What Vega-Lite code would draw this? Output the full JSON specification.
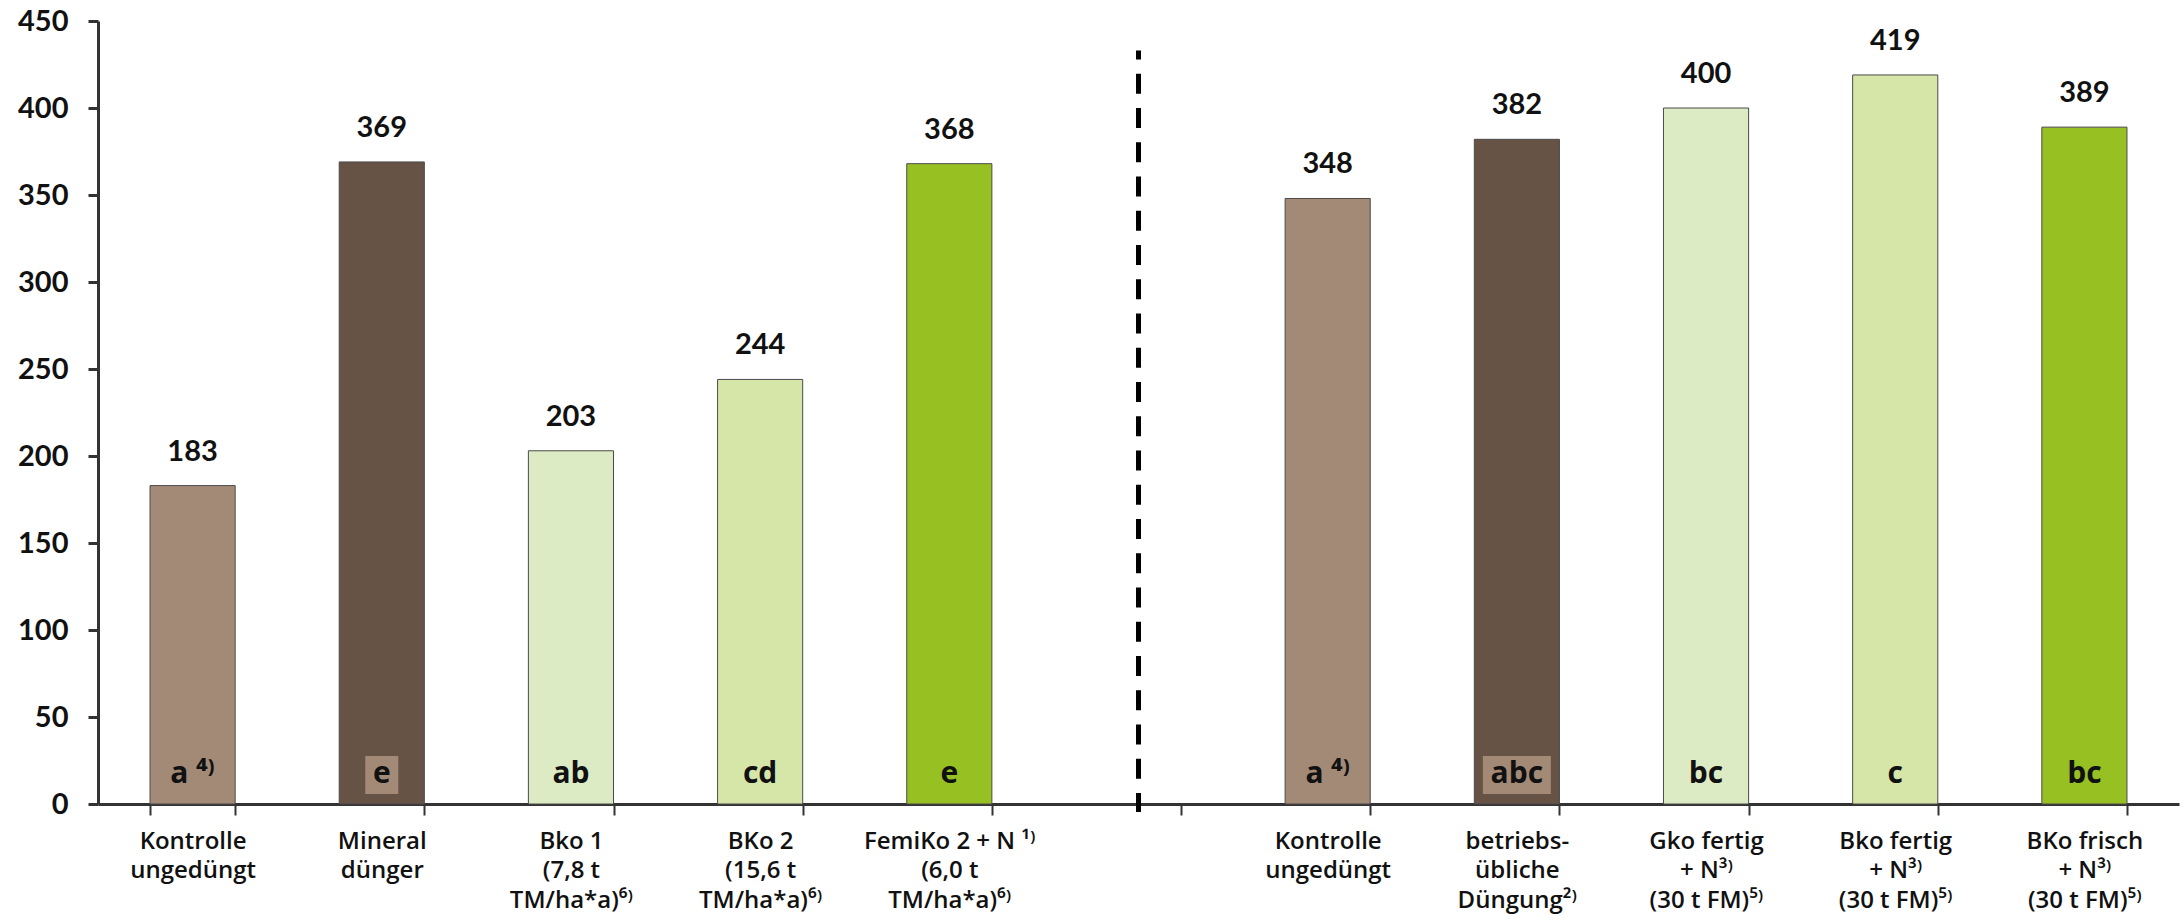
{
  "$schema": "https://vega.github.io/schema/vega-lite/v6.json",
  "autosize": {"type": "none"},
  "width": 2081,
  "height": 783,
  "padding": {"left": 98, "top": 21, "right": 5, "bottom": 119},
  "background": "white",
  "config": {"view": {"stroke": null}, "font": "Lato"},
  "data": {"values": [
    {"treatment": "01|Kontrolle|ungedüngt", "value": 183, "letter": "a ⁴⁾", "type": "Kontrolle"},
    {"treatment": "02|Mineral|dünger", "value": 369, "letter": "e", "type": "Mineral"},
    {"treatment": "03|Bko 1|(7,8 t|TM/ha*a)⁶⁾", "value": 203, "letter": "ab", "type": "Kompost A"},
    {"treatment": "04|BKo 2|(15,6 t|TM/ha*a)⁶⁾", "value": 244, "letter": "cd", "type": "Kompost B"},
    {"treatment": "05|FemiKo 2 + N ¹⁾|(6,0 t|TM/ha*a)⁶⁾", "value": 368, "letter": "e", "type": "Kompost N"},
    {"treatment": "07|Kontrolle|ungedüngt", "value": 348, "letter": "a ⁴⁾", "type": "Kontrolle"},
    {"treatment": "08|betriebs-|übliche|Düngung²⁾", "value": 382, "letter": "abc", "type": "Mineral"},
    {"treatment": "09|Gko fertig|+ N³⁾|(30 t FM)⁵⁾", "value": 400, "letter": "bc", "type": "Kompost A"},
    {"treatment": "10|Bko fertig|+ N³⁾|(30 t FM)⁵⁾", "value": 419, "letter": "c", "type": "Kompost B"},
    {"treatment": "11|BKo frisch|+ N³⁾|(30 t FM)⁵⁾", "value": 389, "letter": "bc", "type": "Kompost N"}
  ]},
  "encoding": {
    "x": {
      "field": "treatment",
      "type": "nominal",
      "sort": null,
      "scale": {
        "domain": [
          "01|Kontrolle|ungedüngt",
          "02|Mineral|dünger",
          "03|Bko 1|(7,8 t|TM/ha*a)⁶⁾",
          "04|BKo 2|(15,6 t|TM/ha*a)⁶⁾",
          "05|FemiKo 2 + N ¹⁾|(6,0 t|TM/ha*a)⁶⁾",
          "06|",
          "07|Kontrolle|ungedüngt",
          "08|betriebs-|übliche|Düngung²⁾",
          "09|Gko fertig|+ N³⁾|(30 t FM)⁵⁾",
          "10|Bko fertig|+ N³⁾|(30 t FM)⁵⁾",
          "11|BKo frisch|+ N³⁾|(30 t FM)⁵⁾"
        ],
        "paddingInner": 0.55,
        "paddingOuter": 0.275
      },
      "axis": {
        "title": null,
        "labelAngle": 0,
        "labelExpr": "slice(split(datum.value, '|'), 1)",
        "labelFont": "Open Sans",
        "labelFontWeight": 600,
        "labelFontSize": 24,
        "labelColor": "#111111",
        "labelLineHeight": 29.5,
        "labelPadding": 14,
        "labelBaseline": "top",
        "tickBand": "extent",
        "tickSize": 11,
        "tickWidth": 2,
        "tickColor": "#333333",
        "domainColor": "#333333",
        "domainWidth": 3,
        "grid": false
      }
    }
  },
  "layer": [
    {
      "mark": {"type": "bar", "stroke": "#4a4a4a", "strokeWidth": 1},
      "encoding": {
        "y": {
          "field": "value",
          "type": "quantitative",
          "scale": {"domain": [0, 450], "nice": false},
          "axis": {
            "title": null,
            "values": [0, 50, 100, 150, 200, 250, 300, 350, 400, 450],
            "labelFontSize": 29,
            "labelFontWeight": "bold",
            "labelColor": "#111111",
            "labelPadding": 20,
            "tickSize": 10,
            "tickWidth": 3,
            "tickColor": "#333333",
            "domainColor": "#333333",
            "domainWidth": 3,
            "grid": false
          }
        },
        "color": {
          "field": "type",
          "type": "nominal",
          "scale": {
            "domain": ["Kontrolle", "Mineral", "Kompost A", "Kompost B", "Kompost N"],
            "range": ["#A38A77", "#665345", "#DDEBC4", "#D6E6A8", "#97C023"]
          },
          "legend": null
        }
      }
    },
    {
      "transform": [{"filter": "datum.letter == 'e' && datum.type == 'Mineral'"}],
      "mark": {"type": "bar", "width": 33, "color": "#A38A77"},
      "encoding": {"y": {"datum": 5.7}, "y2": {"datum": 27.6}}
    },
    {
      "transform": [{"filter": "datum.letter == 'abc'"}],
      "mark": {"type": "bar", "width": 68, "color": "#A38A77"},
      "encoding": {"y": {"datum": 5.7}, "y2": {"datum": 27.6}}
    },
    {
      "mark": {"type": "text", "baseline": "bottom", "dy": -19, "fontSize": 29, "fontWeight": "bold", "color": "#111111"},
      "encoding": {
        "y": {"field": "value", "type": "quantitative"},
        "text": {"field": "value", "type": "quantitative"}
      }
    },
    {
      "mark": {"type": "text", "baseline": "middle", "font": "Open Sans", "fontSize": 30, "fontWeight": "bold", "color": "#111111"},
      "encoding": {
        "y": {"datum": 17.5},
        "text": {"field": "letter", "type": "nominal"}
      }
    },
    {
      "data": {"values": [{"treatment": "06|"}]},
      "mark": {"type": "rule", "strokeDash": [20, 14.25], "strokeDashOffset": 11, "strokeWidth": 5, "color": "#000000"},
      "encoding": {"y": {"datum": 433}, "y2": {"datum": -4.6}}
    }
  ]
}
